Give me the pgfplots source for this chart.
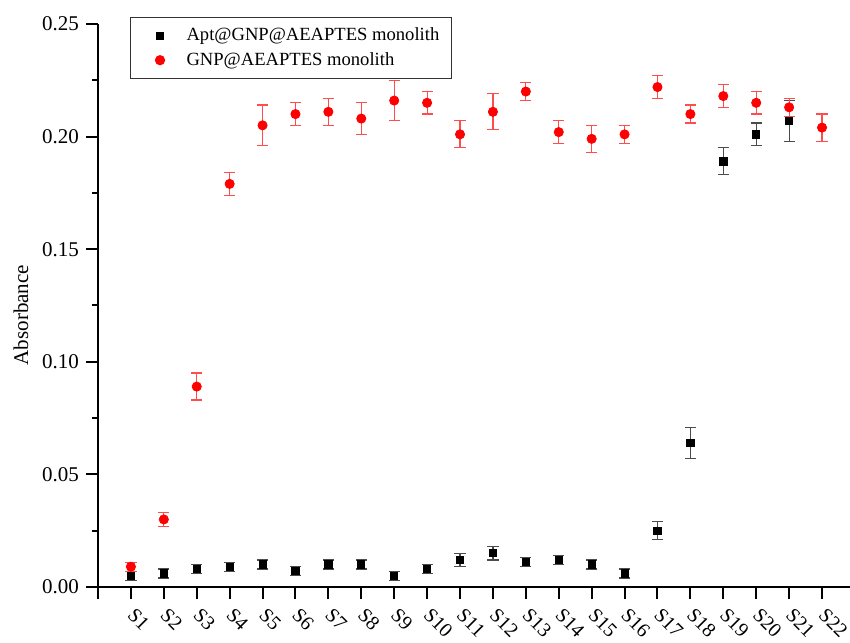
\documentclass[border=0pt]{standalone}
\usepackage{fontspec}
\setmainfont{Liberation Serif}
\usepackage{pgfplots}
\usepackage{pgfplotstable}
\pgfplotsset{compat=1.18}
\pgfplotsset{wide legend/.style={legend image code/.code={%
    \path (0pt,0pt) (21.5pt,0pt);
    \draw plot coordinates {(10.5pt,0pt)};}}}

% black squares: Apt@GNP@AEAPTES monolith
\pgfplotstableread{
x y e
1 0.005 0.002
2 0.006 0.002
3 0.008 0.002
4 0.009 0.002
5 0.010 0.002
6 0.007 0.002
7 0.010 0.002
8 0.010 0.002
9 0.005 0.002
10 0.008 0.002
11 0.012 0.003
12 0.015 0.003
13 0.011 0.002
14 0.012 0.002
15 0.010 0.002
16 0.006 0.002
17 0.025 0.004
18 0.064 0.007
19 0.189 0.006
20 0.201 0.005
21 0.207 0.009
}\apt

% red circles: GNP@AEAPTES monolith
\pgfplotstableread{
x y e
1 0.009 0.002
2 0.030 0.003
3 0.089 0.006
4 0.179 0.005
5 0.205 0.009
6 0.210 0.005
7 0.211 0.006
8 0.208 0.007
9 0.216 0.009
10 0.215 0.005
11 0.201 0.006
12 0.211 0.008
13 0.220 0.004
14 0.202 0.005
15 0.199 0.006
16 0.201 0.004
17 0.222 0.005
18 0.210 0.004
19 0.218 0.005
20 0.215 0.005
21 0.213 0.004
22 0.204 0.006
}\gnp

\begin{document}
\begin{tikzpicture}
\begin{axis}[
    scale only axis,
    width=376pt, height=281.5pt,
    xmin=0, xmax=22.85,
    ymin=0, ymax=0.25,
    axis x line=bottom, axis y line=left,
    axis line style={-, line width=1pt},
    tick align=outside,
    major tick length=6pt, minor tick length=3pt,
    every tick/.style={black, line width=1pt},
    xtick={0,...,22},
    xticklabels={{},S1,S2,S3,S4,S5,S6,S7,S8,S9,S10,S11,S12,S13,S14,S15,S16,S17,S18,S19,S20,S21,S22},
    xticklabel style={xshift=2.5pt, yshift=-2.5pt, rotate=-45, anchor=north west,
        inner sep=1pt, font=\fontsize{10}{12}\selectfont},
    ytick={0,0.05,0.10,0.15,0.20,0.25},
    minor y tick num=1,
    yticklabel style={/pgf/number format/fixed, /pgf/number format/fixed zerofill,
        /pgf/number format/precision=2, font=\fontsize{10.5}{12}\selectfont},
    /pgf/number format/assume math mode=true,
    ylabel={Absorbance},
    ylabel style={at={(ticklabel cs:0.483)}, font=\fontsize{10.5}{12}\selectfont},
    legend style={at={(rel axis cs:0.0426,1.012)}, anchor=north west,
        draw=black!80, line width=0.5pt, font=\fontsize{9.3}{11}\selectfont,
        inner xsep=4pt, inner ysep=3pt, row sep=0.3pt},
    legend cell align=left,
]
\coordinate (O) at (rel axis cs:0,0);
\addplot[only marks, wide legend, mark=square*, mark size=1.8pt, black,
    error bars/.cd, y dir=both, y explicit,
    error bar style={black!70, line width=0.6pt},
    error mark options={rotate=90, mark size=2.8pt, black!70, line width=0.6pt}]
    table[x=x, y=y, y error=e]{\apt};
\addlegendentry{Apt@GNP@AEAPTES monolith}
\addplot[only marks, wide legend, mark=*, mark size=2.3pt, red,
    error bars/.cd, y dir=both, y explicit,
    error bar style={red!70, line width=0.6pt},
    error mark options={rotate=90, mark size=2.8pt, red!70, line width=0.6pt}]
    table[x=x, y=y, y error=e]{\gnp};
\addlegendentry{GNP@AEAPTES monolith}
\end{axis}
\pgfresetboundingbox
\path[use as bounding box] (O) ++(-49pt,-27.5pt) rectangle ++(425pt,321pt);
\end{tikzpicture}
\end{document}
